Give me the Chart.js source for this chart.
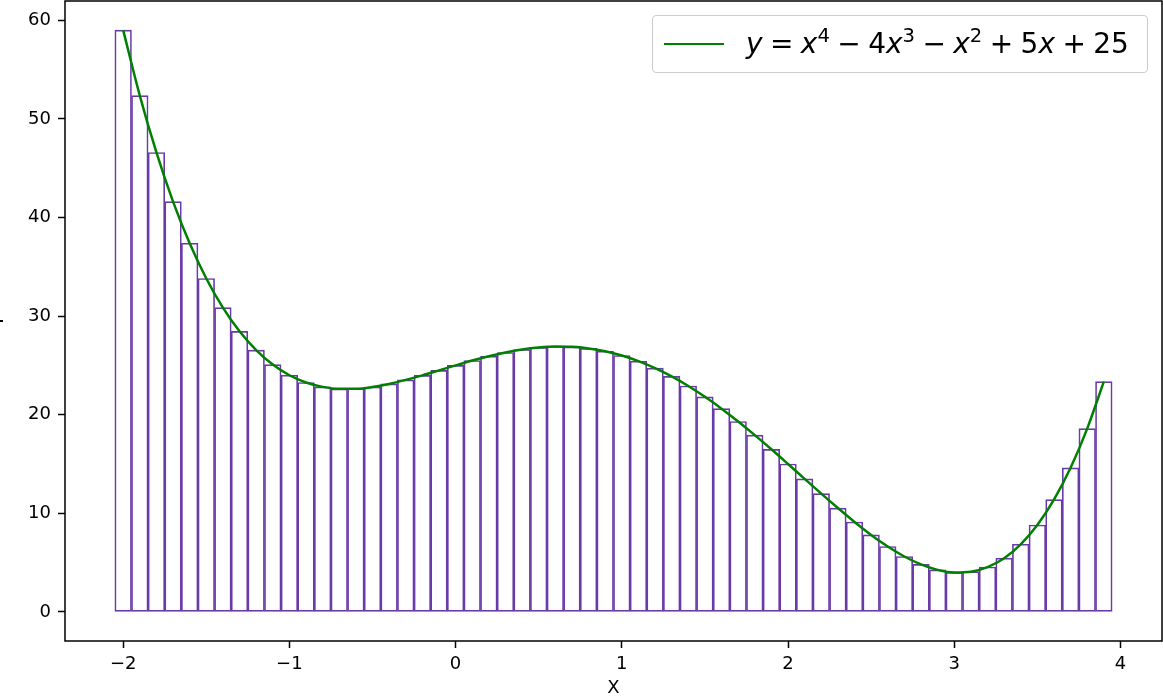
<!DOCTYPE html>
<html>
<head>
<meta charset="utf-8">
<script src="https://cdn.jsdelivr.net/npm/chart.js@4.4.1/dist/chart.umd.min.js"></script>
<style>
  html, body { margin: 0; padding: 0; background: #fff; overflow: hidden; }
  #wrap { position: relative; width: 1163px; height: 697px; }
  #legendBox {
    position: absolute; left: 652px; top: 15px; width: 494px; height: 56px;
    border: 1px solid #cccccc; border-radius: 4px; background: rgba(255,255,255,0.8);
    font-family: 'DejaVu Sans', sans-serif; color: #000;
  }
  #legendLine { position: absolute; left: 11px; top: 27px; width: 60px; border-top: 2px solid #008000; }
  #legendText { position: absolute; left: 93px; top: 14px; font-size: 28px; line-height: 28px; white-space: nowrap; word-spacing: -1.5px; }
  #legendText sup { font-size: 70%; position: relative; top: -0.55em; vertical-align: baseline; line-height: 0; }
</style>
</head>
<body>
<div id="wrap">
  <canvas id="polyChart" width="1163" height="697"></canvas>
  <div id="legendBox">
    <div id="legendLine"></div>
    <div id="legendText"><i>y</i> = <i>x</i><sup>4</sup> − 4<i>x</i><sup>3</sup> − <i>x</i><sup>2</sup> + 5<i>x</i> + 25</div>
  </div>
</div>
<script>
// bar centres along x (bar width 0.1)
const xValues = [-2.0, -1.9, -1.8, -1.7, -1.6, -1.5, -1.4, -1.3, -1.2, -1.1,
                 -1.0, -0.9, -0.8, -0.7, -0.6, -0.5, -0.4, -0.3, -0.2, -0.1,
                  0.0,  0.1,  0.2,  0.3,  0.4,  0.5,  0.6,  0.7,  0.8,  0.9,
                  1.0,  1.1,  1.2,  1.3,  1.4,  1.5,  1.6,  1.7,  1.8,  1.9,
                  2.0,  2.1,  2.2,  2.3,  2.4,  2.5,  2.6,  2.7,  2.8,  2.9,
                  3.0,  3.1,  3.2,  3.3,  3.4,  3.5,  3.6,  3.7,  3.8,  3.9];
// bar heights (curve passes through the bar tops)
const yValues = [59.00, 52.36, 46.59, 41.61, 37.38, 33.81, 30.86, 28.45, 26.55, 25.08,
                 24.00, 23.26, 22.82, 22.62, 22.63, 22.81, 23.12, 23.53, 23.99, 24.49,
                 25.00, 25.49, 25.93, 26.31, 26.61, 26.81, 26.91, 26.88, 26.72, 26.43,
                 26.00, 25.43, 24.72, 23.88, 22.91, 21.81, 20.61, 19.31, 17.93, 16.49,
                 15.00, 13.49, 11.99, 10.53,  9.12,  7.81,  6.63,  5.62,  4.82,  4.26,
                  4.00,  4.08,  4.55,  5.45,  6.86,  8.81, 11.38, 14.61, 18.59, 23.36];
const xTicks = [-2, -1, 0, 1, 2, 3, 4];
const yTicks = [0, 10, 20, 30, 40, 50, 60];

const points = xValues.map((x, i) => ({ x: x, y: yValues[i] }));
const tickFont = { family: 'DejaVu Sans', size: 18 };
const fmt = v => (v < 0 ? '\u2212' + Math.abs(v) : String(v));

// matplotlib style frame round the plot area
const framePlugin = {
  id: 'frame',
  afterDraw(chart) {
    const a = chart.chartArea, ctx = chart.ctx;
    ctx.save();
    ctx.strokeStyle = '#000';
    ctx.lineWidth = 1.5;
    ctx.strokeRect(a.left, a.top, a.right - a.left, a.bottom - a.top);
    ctx.restore();
  }
};

new Chart(document.getElementById('polyChart').getContext('2d'), {
  type: 'bar',
  data: {
    datasets: [
      {
        type: 'line',
        label: 'curve',
        data: points,
        borderColor: '#008000',
        borderWidth: 2.5,
        pointRadius: 0,
        cubicInterpolationMode: 'monotone',
        fill: false,
        order: 0
      },
      {
        type: 'bar',
        label: 'bars',
        data: points,
        backgroundColor: 'rgba(0,0,0,0)',
        borderColor: '#6a3aa8',
        borderWidth: 1,
        borderSkipped: false,
        barPercentage: 1,
        categoryPercentage: 1,
        grouped: false,
        order: 1
      }
    ]
  },
  options: {
    responsive: false,
    animation: false,
    layout: { padding: { left: 0, right: 1, top: 1, bottom: 0 } },
    plugins: { legend: { display: false }, tooltip: { enabled: false } },
    scales: {
      x: {
        type: 'linear',
        min: -2.35,
        max: 4.25,
        offset: false,
        afterBuildTicks: s => { s.ticks = xTicks.map(v => ({ value: v })); },
        afterFit: s => { s.height = 56; s.paddingLeft = 0; s.paddingRight = 0; },
        grid: { offset: false, drawOnChartArea: false, drawTicks: true, tickLength: 7, tickWidth: 1.5, tickColor: '#000' },
        border: { display: false },
        ticks: { font: tickFont, color: '#000', padding: 6, maxRotation: 0, callback: v => fmt(v) },
        title: { display: true, text: 'X', font: { family: 'DejaVu Sans', size: 18, lineHeight: 1 }, color: '#000', padding: { top: 0, bottom: 0 } }
      },
      y: {
        type: 'linear',
        min: -2.95,
        max: 61.95,
        afterBuildTicks: s => { s.ticks = yTicks.map(v => ({ value: v })); },
        afterFit: s => { s.width = 65; s.paddingTop = 0; s.paddingBottom = 0; },
        grid: { offset: false, drawOnChartArea: false, drawTicks: true, tickLength: 7, tickWidth: 1.5, tickColor: '#000' },
        border: { display: false },
        ticks: { font: tickFont, color: '#000', padding: 7, callback: v => fmt(v) },
        title: { display: true, text: 'Y', font: { family: 'DejaVu Sans', size: 18, lineHeight: 1 }, color: '#000', padding: { top: -11, bottom: 0 } }
      }
    }
  },
  plugins: [framePlugin]
});
</script>
</body>
</html>
